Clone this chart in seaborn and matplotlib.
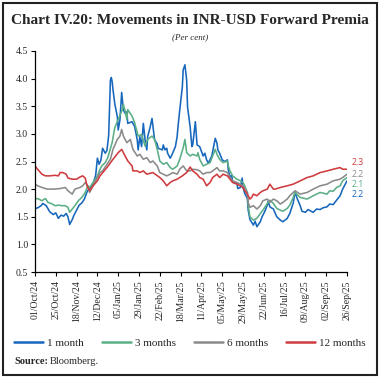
import numpy as np
import pandas as pd
import matplotlib
matplotlib.use("Agg")
import matplotlib.pyplot as plt
import matplotlib.dates as mdates
from matplotlib.lines import Line2D
import seaborn as sns

# ---------------- data ----------------
start_date = "2024-10-01"
tick_labels_step_days = 24

days_1m = [0, 3, 7, 9, 13, 17, 21, 24, 27, 30, 33, 36, 38, 40, 43, 45, 48, 51, 54, 57, 60, 63, 67, 70,
           72, 74, 76, 78, 81, 83, 85, 87, 88, 89, 90, 92, 95, 96, 98, 100, 102, 104, 106, 107, 112,
           115, 118, 119, 121, 123, 125, 127, 129, 130, 133, 135, 136, 138, 141, 142, 147, 148, 150,
           152, 153, 156, 158, 162, 164, 165, 167, 170, 171, 173, 175, 176, 179, 181, 182, 185, 187,
           190, 194, 196, 198, 200, 204, 208, 210, 211, 213, 216, 219, 222, 223, 225, 227, 228, 233,
           234, 237, 239, 240, 242, 245, 246, 248, 252, 254, 256, 260, 262, 265, 268, 269, 271, 275,
           279, 283, 286, 291, 294, 298, 300, 302, 306, 308, 312, 315, 321, 325, 329, 332, 337, 340,
           344, 348, 352, 355, 360]
vals_1m = [1.65, 1.66, 1.70, 1.74, 1.70, 1.59, 1.54, 1.57, 1.47, 1.53, 1.51, 1.56, 1.50, 1.36, 1.45,
           1.53, 1.62, 1.71, 1.75, 1.82, 1.95, 2.02, 2.10, 2.25, 2.56, 2.45, 2.52, 2.74, 2.65, 2.70,
           2.97, 3.97, 4.02, 3.95, 3.80, 3.55, 3.31, 3.07, 3.25, 3.75, 3.43, 3.37, 3.40, 3.19, 3.22,
           3.13, 2.89, 2.71, 2.95, 2.77, 3.19, 2.89, 2.71, 2.95, 3.13, 3.28, 3.15, 2.89, 2.82, 2.74,
           2.71, 2.80, 2.71, 2.74, 2.65, 2.56, 2.62, 2.77, 2.95, 3.13, 3.43, 3.85, 4.16, 4.25, 3.97,
           3.49, 3.13, 2.77, 2.80, 3.22, 2.80, 2.77, 2.60, 2.65, 2.53, 2.47, 2.60, 2.92, 2.83, 2.71,
           2.65, 2.53, 2.50, 2.53, 2.35, 2.22, 2.25, 2.13, 2.10, 2.01, 2.03, 2.20, 2.03, 1.92, 1.83,
           1.62, 1.45, 1.35, 1.42, 1.32, 1.41, 1.50, 1.59, 1.71, 1.78, 1.68, 1.64, 1.50, 1.44, 1.41,
           1.47, 1.56, 1.75, 1.95, 1.85, 1.70, 1.60, 1.58, 1.63, 1.58, 1.64, 1.63, 1.66, 1.68, 1.73,
           1.72, 1.80, 1.88, 2.00, 2.15]

days_3m = [0, 3, 8, 12, 15, 20, 23, 27, 31, 35, 38, 40, 43, 46, 50, 54, 58, 61, 63, 67, 72, 75, 77,
           81, 84, 89, 92, 96, 100, 102, 104, 106, 107, 112, 115, 119, 123, 127, 130, 135, 138, 141,
           144, 148, 152, 156, 159, 164, 167, 171, 173, 175, 179, 182, 187, 188, 190, 194, 198, 202,
           205, 208, 210, 211, 213, 217, 222, 223, 225, 228, 233, 237, 240, 242, 245, 246, 248, 252,
           256, 260, 263, 268, 271, 275, 279, 283, 286, 291, 294, 298, 300, 306, 314, 321, 329, 337,
           340, 344, 348, 352, 355, 360]
vals_3m = [1.82, 1.83, 1.79, 1.83, 1.76, 1.73, 1.70, 1.71, 1.70, 1.70, 1.67, 1.58, 1.64, 1.70, 1.79,
           1.85, 1.94, 2.06, 2.03, 2.12, 2.24, 2.36, 2.42, 2.48, 2.57, 2.84, 3.11, 3.26, 3.41, 3.53,
           3.41, 3.26, 3.44, 3.32, 3.20, 2.96, 2.99, 2.78, 2.90, 2.96, 2.90, 2.72, 2.51, 2.45, 2.48,
           2.39, 2.36, 2.42, 2.54, 2.75, 2.90, 2.66, 2.60, 2.63, 2.60, 2.66, 2.54, 2.42, 2.45, 2.48,
           2.60, 2.72, 2.63, 2.60, 2.54, 2.48, 2.51, 2.42, 2.33, 2.24, 2.18, 2.15, 2.12, 2.06, 1.94,
           1.70, 1.50, 1.44, 1.47, 1.56, 1.62, 1.74, 1.80, 1.74, 1.65, 1.62, 1.60, 1.65, 1.71, 1.85,
           1.94, 1.85, 1.82, 1.88, 1.94, 1.91, 1.97, 1.96, 2.03, 2.06, 2.15, 2.21]

days_6m = [0, 3, 8, 14, 21, 29, 35, 38, 43, 46, 52, 55, 58, 61, 63, 67, 72, 75, 78, 83, 87, 90, 95,
           98, 100, 102, 106, 110, 113, 118, 121, 125, 129, 133, 136, 141, 144, 148, 152, 156, 159,
           164, 167, 171, 175, 179, 182, 187, 190, 194, 198, 202, 205, 210, 213, 217, 222, 225, 228,
           233, 237, 240, 245, 246, 248, 252, 256, 260, 263, 268, 271, 275, 279, 283, 286, 291, 294,
           298, 300, 306, 314, 321, 329, 337, 344, 352, 355, 360]
vals_6m = [2.09, 2.06, 2.03, 2.00, 2.00, 2.01, 2.03, 1.97, 1.91, 2.00, 2.03, 2.06, 2.12, 2.06, 1.94,
           2.06, 2.21, 2.30, 2.33, 2.45, 2.54, 2.72, 2.90, 2.96, 3.08, 2.96, 2.84, 2.90, 2.72, 2.60,
           2.63, 2.54, 2.57, 2.48, 2.51, 2.42, 2.30, 2.27, 2.24, 2.27, 2.30, 2.27, 2.36, 2.42, 2.33,
           2.33, 2.36, 2.35, 2.33, 2.27, 2.30, 2.30, 2.33, 2.39, 2.33, 2.33, 2.30, 2.21, 2.15, 2.12,
           2.09, 2.06, 1.94, 1.76, 1.67, 1.70, 1.64, 1.70, 1.79, 1.82, 1.76, 1.82, 1.79, 1.73, 1.76,
           1.82, 1.88, 1.94, 1.97, 1.91, 1.94, 2.00, 2.06, 2.09, 2.15, 2.18, 2.21, 2.27]

days_12m = [0, 3, 8, 12, 17, 23, 27, 29, 32, 36, 38, 43, 48, 52, 55, 58, 60, 63, 67, 72, 75, 83, 90,
            96, 100, 104, 107, 112, 113, 118, 121, 125, 129, 136, 144, 148, 152, 156, 159, 164, 167,
            170, 175, 179, 182, 187, 190, 194, 198, 202, 205, 210, 213, 217, 222, 225, 228, 233, 237,
            240, 242, 245, 248, 250, 252, 256, 260, 263, 268, 271, 275, 277, 283, 291, 298, 306, 314,
            321, 329, 337, 344, 352, 355, 360]
vals_12m = [2.42, 2.36, 2.27, 2.24, 2.24, 2.25, 2.24, 2.30, 2.30, 2.27, 2.20, 2.18, 2.18, 2.22, 2.24,
            2.20, 2.06, 1.97, 2.06, 2.15, 2.24, 2.39, 2.54, 2.66, 2.72, 2.60, 2.51, 2.42, 2.33, 2.33,
            2.30, 2.33, 2.27, 2.30, 2.21, 2.15, 2.06, 2.12, 2.15, 2.18, 2.21, 2.24, 2.30, 2.40, 2.33,
            2.27, 2.21, 2.18, 2.06, 2.12, 2.21, 2.27, 2.21, 2.27, 2.24, 2.18, 2.12, 2.09, 2.06, 2.03,
            1.97, 1.91, 1.82, 1.85, 1.91, 1.88, 1.94, 1.97, 2.00, 2.09, 2.00, 2.00, 2.03, 2.06, 2.09,
            2.15, 2.21, 2.24, 2.30, 2.33, 2.36, 2.39, 2.36, 2.36]

series_names = ["1 month", "3 months", "6 months", "12 months"]
end_labels = ["2.2", "2.1", "2.2", "2.3"]
colors = ["#1767bd", "#5bae86", "#8a8a8a", "#cf3b3f"]

y_ticks = [0.5, 1.0, 1.5, 2.0, 2.5, 3.0, 3.5, 4.0, 4.5]

# ---------------- build frame ----------------
base = pd.Timestamp(start_date)
frames = []
for name, d, v in zip(series_names,
                      [days_1m, days_3m, days_6m, days_12m],
                      [vals_1m, vals_3m, vals_6m, vals_12m]):
    frames.append(pd.DataFrame({"date": base + pd.to_timedelta(d, unit="D"),
                                "value": v, "series": name}))
df = pd.concat(frames, ignore_index=True)

# ---------------- plot ----------------
sns.set_style("ticks")
serif = ["Liberation Serif", "DejaVu Serif"]
plt.rcParams["font.family"] = serif

fig = plt.figure(figsize=(3.8, 3.8), dpi=100)
ax = fig.add_axes([35 / 380, 1 - 272 / 380, (347 - 35) / 380, (272 - 51) / 380])

sns.lineplot(data=df, x="date", y="value", hue="series", hue_order=series_names,
             palette=colors, linewidth=1.15, ax=ax, legend=False)

ax.set_ylim(0.5, 4.5)
ax.set_yticks(y_ticks)
ax.set_yticklabels([f"{t:.1f}" for t in y_ticks])
xticks = pd.date_range(start_date, periods=16, freq=f"{tick_labels_step_days}D")
ax.set_xlim(xticks[0], xticks[-1])
ax.set_xticks(xticks)
ax.xaxis.set_major_formatter(mdates.DateFormatter("%d/%b/%y"))
for lab in ax.get_xticklabels():
    lab.set_rotation(90)
ax.tick_params(axis="both", labelsize=7, length=3, width=0.8, color="black", pad=2)
ax.tick_params(axis="x", pad=3)
ax.set_xlabel("")
ax.set_ylabel("")
for s in ["top", "right"]:
    ax.spines[s].set_visible(False)
for s in ["left", "bottom"]:
    ax.spines[s].set_linewidth(0.9)
    ax.spines[s].set_color("black")
ax.grid(False)

# end labels
label_y = [1.90, 2.09, 2.27, 2.48]
for txt, col, yy in zip(end_labels, colors, label_y):
    ax.annotate(txt, xy=(1.0, yy), xycoords=("axes fraction", "data"),
                xytext=(3, 0), textcoords="offset points", color=col,
                fontsize=6.3, family=["Open Sans", "DejaVu Sans"], va="center", ha="left",
                annotation_clip=False)

# title
fig.text(0.5, 1 - 20 / 380, "Chart IV.20: Movements in INR-USD Forward Premia",
         ha="center", va="center", fontsize=11, fontweight="bold", family=serif)
fig.text(0.5, 1 - 37 / 380, "(Per cent)", ha="center", va="center", fontsize=6.5,
         style="italic", family=serif)

# legend
handles = [Line2D([0], [0], color=c, lw=1.8) for c in colors]
fig.legend(handles, series_names, loc="center", bbox_to_anchor=(0.5, 1 - 343 / 380),
           ncol=4, frameon=False, fontsize=8, handlelength=2.6, handletextpad=0.4,
           columnspacing=1.6, borderaxespad=0, borderpad=0)

src = fig.text(14 / 380, 1 - 362 / 380, "Source:", ha="left", va="center", fontsize=7.5,
               fontweight="bold", family=serif)
fig.canvas.draw()
bb = src.get_window_extent()
fig.text((bb.x1 + 2) / fig.bbox.width, 1 - 362 / 380, "Bloomberg.", ha="left", va="center",
         fontsize=7.5, family=serif)

# border
fig.patches.append(plt.Rectangle((3 / 380, 5 / 380), 374 / 380, 372 / 380,
                                 transform=fig.transFigure, fill=False,
                                 edgecolor="#222222", linewidth=1.5))

fig.savefig("out.png", dpi=100)
